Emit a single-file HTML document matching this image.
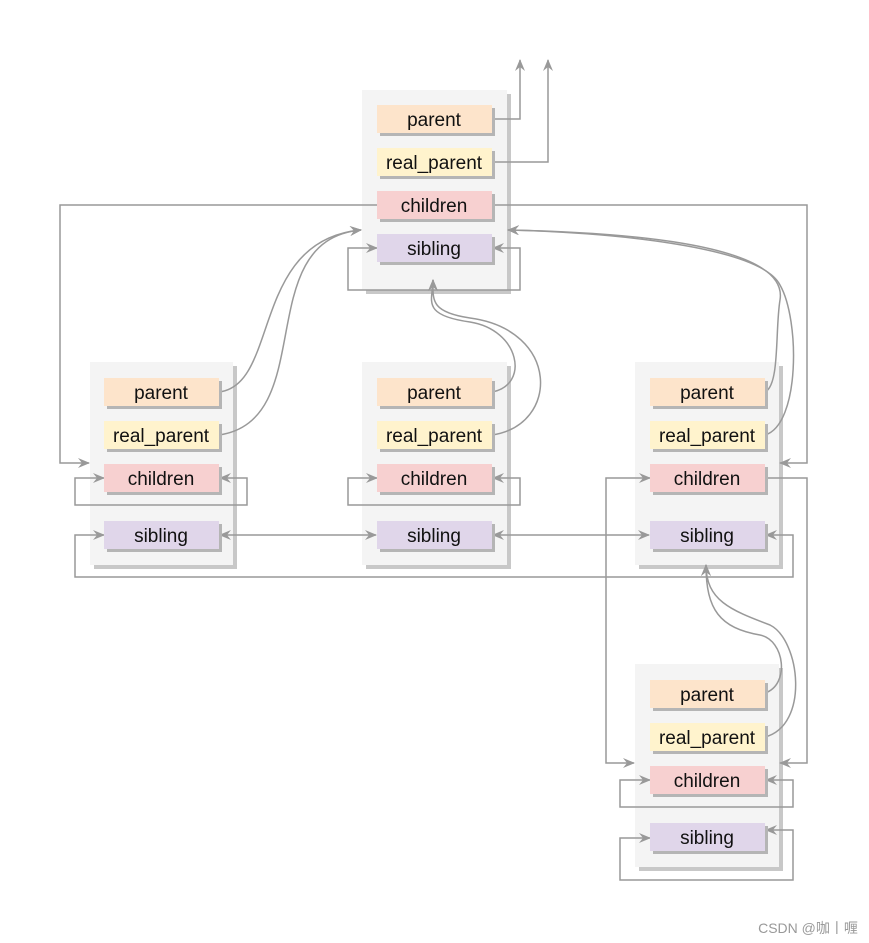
<!DOCTYPE html>
<html><head><meta charset="utf-8"><style>
html,body{margin:0;padding:0;background:#fff;}
svg{display:block;}
text{font-family:"Liberation Sans",sans-serif;font-size:19px;fill:#111;text-anchor:middle;}
</style></head><body>
<svg width="869" height="943" viewBox="0 0 869 943" xmlns="http://www.w3.org/2000/svg">
<defs>
<marker id="a" markerWidth="12" markerHeight="10" refX="11" refY="5" orient="auto" markerUnits="userSpaceOnUse">
<path d="M0,0 L12,5 L0,10 L4,5 z" fill="#999"/></marker>
<marker id="s" markerWidth="12" markerHeight="10" refX="1" refY="5" orient="auto" markerUnits="userSpaceOnUse">
<path d="M12,0 L0,5 L12,10 L8,5 z" fill="#999"/></marker>
</defs>
<!-- containers -->
<g>
<rect x="366" y="94" width="145" height="200" fill="#c8c8c8"/><rect x="362" y="90" width="145" height="200" fill="#f4f4f4"/>
<rect x="94" y="366" width="143" height="203" fill="#c8c8c8"/><rect x="90" y="362" width="143" height="203" fill="#f4f4f4"/>
<rect x="366" y="366" width="145" height="203" fill="#c8c8c8"/><rect x="362" y="362" width="145" height="203" fill="#f4f4f4"/>
<rect x="639" y="366" width="144" height="203" fill="#c8c8c8"/><rect x="635" y="362" width="144" height="203" fill="#f4f4f4"/>
<rect x="639" y="668" width="144" height="203" fill="#c8c8c8"/><rect x="635" y="664" width="144" height="203" fill="#f4f4f4"/>
</g>
<!-- connectors -->
<g fill="none" stroke="#999" stroke-width="1.5">
<path d="M492,119 H520 V60" marker-end="url(#a)"/>
<path d="M492,162 H548 V60" marker-end="url(#a)"/>
<path d="M377,205 H60 V463 H89" marker-end="url(#a)"/>
<path d="M492,205 H807 V463 H780" marker-end="url(#a)"/>
<path d="M377,248 H348 V290 H520 V248 H493" marker-end="url(#a)" marker-start="url(#s)"/>
<path d="M219,392 C280,385 250,240 361,230" marker-end="url(#a)"/>
<path d="M219,435 C320,420 250,240 361,230" marker-end="url(#a)"/>
<path d="M492,392 C530,385 520,330 470,322 C420,315 433,300 433,280" marker-end="url(#a)"/>
<path d="M492,435 C560,425 560,330 470,318 C430,312 433,300 433,280" marker-end="url(#a)"/>
<path d="M765,392 C780,385 775,330 780,300 C790,240 600,232 508,230" marker-end="url(#a)"/>
<path d="M765,435 C800,425 800,320 780,285 C760,245 600,232 508,230" marker-end="url(#a)"/>
<path d="M104,478 H75 V505 H247 V478 H220" marker-end="url(#a)" marker-start="url(#s)"/>
<path d="M377,478 H348 V505 H520 V478 H493" marker-end="url(#a)" marker-start="url(#s)"/>
<path d="M650,478 H606 V763 H634" marker-end="url(#a)" marker-start="url(#s)"/>
<path d="M765,478 H807 V763 H780" marker-end="url(#a)"/>
<path d="M220,535 H376" marker-end="url(#a)" marker-start="url(#s)"/>
<path d="M493,535 H649" marker-end="url(#a)" marker-start="url(#s)"/>
<path d="M104,535 H75 V577 H793 V535 H766" marker-end="url(#a)" marker-start="url(#s)"/>
<path d="M765,693 C790,685 785,640 760,635 C720,628 706,610 706,565" marker-end="url(#a)"/>
<path d="M765,737 C810,725 800,640 770,625 C730,610 706,600 706,565" marker-end="url(#a)"/>
<path d="M650,780 H620 V807 H793 V780 H766" marker-end="url(#a)" marker-start="url(#s)"/>
<path d="M650,838 H620 V880 H793 V830 H766" marker-end="url(#a)" marker-start="url(#s)"/>
</g>
<!-- items -->
<g>
<g transform="translate(377,0)">
<rect x="3" y="108" width="115" height="28" fill="#b5b5b5"/><rect x="0" y="105" width="115" height="28" fill="#fde4cb"/><text x="57" y="126">parent</text>
<rect x="3" y="151" width="115" height="28" fill="#b5b5b5"/><rect x="0" y="148" width="115" height="28" fill="#fff3cd"/><text x="57" y="169">real_parent</text>
<rect x="3" y="194" width="115" height="28" fill="#b5b5b5"/><rect x="0" y="191" width="115" height="28" fill="#f7d0d0"/><text x="57" y="212">children</text>
<rect x="3" y="237" width="115" height="28" fill="#b5b5b5"/><rect x="0" y="234" width="115" height="28" fill="#e0d6ea"/><text x="57" y="255">sibling</text>
</g>
<g id="n" transform="translate(104,0)">
<rect x="3" y="381" width="115" height="28" fill="#b5b5b5"/><rect x="0" y="378" width="115" height="28" fill="#fde4cb"/><text x="57" y="399">parent</text>
<rect x="3" y="424" width="115" height="28" fill="#b5b5b5"/><rect x="0" y="421" width="115" height="28" fill="#fff3cd"/><text x="57" y="442">real_parent</text>
<rect x="3" y="467" width="115" height="28" fill="#b5b5b5"/><rect x="0" y="464" width="115" height="28" fill="#f7d0d0"/><text x="57" y="485">children</text>
<rect x="3" y="524" width="115" height="28" fill="#b5b5b5"/><rect x="0" y="521" width="115" height="28" fill="#e0d6ea"/><text x="57" y="542">sibling</text>
</g>
<use href="#n" transform="translate(273,0)"/>
<use href="#n" transform="translate(546,0)"/>
<use href="#n" transform="translate(546,302)"/>
</g>
<text x="808" y="933" style="font-size:14px;fill:#999;">CSDN @咖丨喱</text>
</svg>
</body></html>
